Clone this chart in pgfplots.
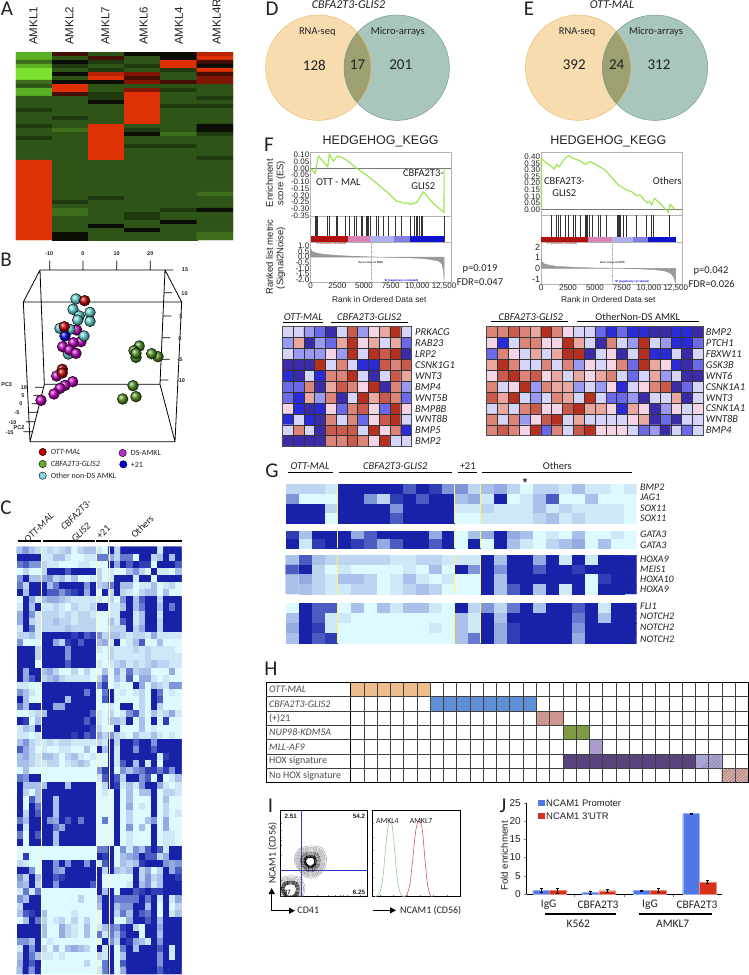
\documentclass[border=0pt]{standalone}
\usepackage{pgfplots}
\usepackage{pgfplotstable}
\pgfplotsset{compat=1.18}
\usepackage{fontspec}
\setmainfont{Carlito}
\newfontfamily\hv{Liberation Sans}
\usetikzlibrary{patterns,arrows.meta,plotmarks}
\newcommand\fs[1]{\fontsize{#1}{#1}\selectfont}
\definecolor{txt}{HTML}{222222}
\definecolor{gr}{HTML}{777777}
% ---- reads a table of numbers, row after row, into coordinates for a matrix plot
\newcount\hmi \newcount\hmj \newcount\hmn
\def\hmread#1#2#3{\hmn=#2 \hmi=0 \hmj=0 \gdef\hmacc{}\hmstep#3 x \expandafter\global\expandafter\let\csname hmd#1\endcsname\hmacc}
\def\hmstep#1 {\if x#1\else\xdef\hmacc{\hmacc(\the\hmi,\the\hmj) [#1] }\advance\hmi by 1 \ifnum\hmi=\hmn \hmi=0 \advance\hmj by 1 \fi\expandafter\hmstep\fi}
\newcommand\hmplot[2]{\edef\hmtmp{\noexpand\addplot[matrix plot*,mesh/cols=#2,point meta=explicit] coordinates {\csname hmd#1\endcsname};}\hmtmp}
\pgfplotsset{
 colormap={gnred}{rgb255=(125,225,50) rgb255=(90,175,35) rgb255=(62,110,28) rgb255=(46,84,24) rgb255=(32,58,16) rgb255=(10,14,4) rgb255=(70,15,5) rgb255=(130,22,5) rgb255=(185,35,5) rgb255=(224,48,5)},
 colormap={blu}{rgb255=(220,250,255) rgb255=(207,232,248) rgb255=(189,213,240) rgb255=(169,192,234) rgb255=(148,171,226) rgb255=(127,149,218) rgb255=(101,121,206) rgb255=(74,92,194) rgb255=(47,62,181) rgb255=(23,34,168)},
 colormap={brd}{rgb255=(58,44,168) rgb255=(42,42,216) rgb255=(106,106,232) rgb255=(154,154,240) rgb255=(213,213,250) rgb255=(245,213,229) rgb255=(232,168,160) rgb255=(220,132,120) rgb255=(200,90,78) rgb255=(181,48,31)},
 colormap={hset}{rgb255=(255,255,255) rgb255=(238,189,138) rgb255=(95,143,214) rgb255=(207,149,144) rgb255=(127,154,69) rgb255=(170,156,204) rgb255=(89,68,127) rgb255=(170,165,215) rgb255=(225,170,165) rgb255=(255,255,255)},
 hm/.style={scale only axis,hide axis,point meta min=0,point meta max=9,anchor=north west},
 hmg/.style={scale only axis,point meta min=0,point meta max=9,anchor=north west,axis on top,colormap name=brd,y dir=reverse,
   grid=major,grid style={black!80,line width=0.6pt},major tick length=0pt,xticklabels={},yticklabels={},axis line style={black!70,line width=0.8pt}},
 es/.style={scale only axis,anchor=north west,axis line style={gray!60,line width=0.4pt},xtick=\empty,major tick length=0pt,scaled x ticks=false,
   tick label style={font=\hv\fs{8},text=txt,inner sep=0.5pt},clip=true},
}
% ---- panel A
\hmread{A}{6}{1 6 3 5 5 8
1 3 6 3 5 9
2 5 4 3 9 6
1 4 3 4 9 5
0 3 4 3 4 9
0 5 8 7 3 6
0 3 9 6 3 7
2 5 5 7 6 7
3 9 3 3 3 3
1 9 3 7 4 3
1 6 4 9 3 3
3 3 4 9 3 4
3 3 5 9 3 3
3 3 3 9 4 4
4 3 3 9 3 3
3 3 3 9 3 3
3 4 3 9 3 3
3 3 3 9 3 3
4 3 9 3 3 5
3 2 9 4 3 5
3 3 9 5 2 4
4 3 9 3 3 3
3 3 9 3 3 3
3 3 9 4 4 3
3 3 9 3 3 3
3 3 9 3 3 3
3 3 9 3 3 4
9 3 3 3 3 3
9 3 3 3 3 3
9 3 3 3 3 3
9 3 3 3 3 3
9 3 3 3 3 3
9 3 3 3 3 3
9 3 3 3 3 3
9 3 3 3 3 3
9 3 3 3 3 2
9 3 4 3 3 3
9 4 3 3 3 3
9 3 3 3 3 3
9 2 3 3 4 5
9 2 3 4 3 3
9 3 3 4 3 3
9 3 3 3 5 3
9 3 5 3 3 3
9 3 3 5 3 3
9 5 3 3 3 2
9 5 3 3 3 2}
% ---- panel C
\hmread{C}{27}{3 5 3 2 1 2 1 2 3 0 2 3 3 1 0 9 2 9 9 9 9 9 9 1 9 9 9
9 9 9 9 1 1 3 3 1 0 0 1 1 6 6 4 2 6 6 0 9 9 2 3 9 3 9
6 7 5 5 2 1 1 0 0 0 1 1 0 0 0 9 4 9 7 9 8 8 0 9 9 9 7
0 2 0 0 2 9 9 9 7 9 9 9 9 2 0 1 0 0 3 5 2 0 9 1 1 0 3
5 9 3 3 4 5 2 3 1 3 0 0 1 2 0 1 9 9 9 1 9 9 0 9 9 9 9
6 2 9 9 9 3 6 9 9 9 9 5 9 2 3 6 9 3 3 0 1 1 3 0 1 2 0
9 3 9 9 9 7 7 5 7 8 9 4 9 0 9 2 9 2 1 0 2 3 3 0 3 0 0
0 9 4 1 3 4 4 3 2 1 1 1 1 1 0 2 0 5 9 3 7 9 9 2 9 9 9
1 9 3 9 1 1 2 1 0 2 1 1 2 9 9 1 1 3 9 3 6 9 9 3 9 6 9
4 9 5 1 2 2 2 1 2 1 2 2 1 0 0 1 1 9 9 1 3 9 9 1 9 9 9
4 9 2 1 2 2 3 2 2 1 2 2 2 0 0 3 1 7 9 1 3 9 9 2 9 9 9
1 9 6 1 2 2 2 2 3 2 2 2 2 0 0 2 2 2 9 2 4 9 9 2 9 9 9
2 2 3 1 9 9 9 9 9 8 9 7 8 5 2 3 3 2 1 2 2 1 4 1 1 1 1
5 0 0 0 9 9 4 2 8 9 7 9 9 3 4 1 9 0 1 3 7 0 0 3 0 0 0
9 9 9 2 9 9 9 9 5 9 9 9 9 1 0 2 1 1 1 2 1 2 1 1 1 1 0
9 9 9 2 9 9 9 9 5 9 9 9 9 0 0 2 1 1 1 1 1 2 1 1 1 1 1
9 9 9 0 9 9 9 9 7 9 9 9 9 1 0 1 2 3 1 2 1 2 3 2 2 1 1
9 4 9 9 3 4 2 0 0 2 0 2 0 0 3 0 4 1 6 2 3 3 0 0 0 4 0
9 4 7 9 2 3 4 2 1 1 1 1 0 2 6 0 3 1 7 0 4 4 1 0 1 0 0
1 1 0 0 9 9 9 9 9 9 9 9 9 5 8 0 1 0 0 9 4 0 3 2 1 5 5
5 3 1 0 9 9 9 9 9 9 9 6 9 0 6 9 0 1 0 1 2 0 9 6 0 1 0
9 3 0 0 9 9 9 9 3 9 9 9 9 0 7 9 0 0 0 0 2 0 9 7 0 0 0
6 3 9 9 9 9 4 4 9 9 9 9 9 0 0 1 0 9 9 0 2 0 9 2 0 0 0
0 0 1 2 3 9 9 9 9 9 9 9 7 1 0 2 0 1 5 7 2 0 3 1 2 4 1
9 8 0 3 9 9 9 9 9 9 9 7 9 1 0 3 3 2 9 0 3 0 9 0 8 0 0
1 3 2 9 9 9 9 9 9 9 9 9 8 2 0 0 9 0 0 0 3 0 1 0 0 0 0
1 1 0 1 9 9 9 9 9 8 9 7 8 4 2 5 2 1 0 3 1 1 3 1 0 1 0
3 5 2 1 1 2 1 2 2 1 1 1 1 2 1 9 2 9 9 7 9 9 5 9 9 9 9
7 4 2 0 1 0 0 1 1 0 0 3 0 9 3 9 1 9 9 5 9 9 7 9 9 9 9
3 4 2 1 3 3 2 0 2 3 1 0 1 0 0 9 1 9 9 9 9 9 9 1 8 9 9
3 3 2 1 1 2 2 0 1 2 3 2 0 0 0 9 1 7 9 3 9 1 9 0 9 9 9
0 3 0 0 0 0 0 0 0 0 0 0 0 5 8 9 0 5 3 5 6 8 8 6 8 5 9
6 5 9 9 0 0 0 0 0 0 0 0 0 1 7 9 7 2 9 9 5 7 0 9 0 1 3
9 3 3 3 3 9 9 9 3 9 9 9 9 0 2 9 8 1 3 1 5 9 9 4 1 0 1
9 2 0 3 9 9 9 9 9 9 9 9 9 0 1 0 9 0 3 0 3 3 9 0 2 2 1
9 0 7 3 9 9 3 9 9 9 9 9 9 0 0 0 9 0 3 0 0 0 9 0 3 0 0
9 0 9 6 9 9 3 9 9 9 9 9 9 0 0 0 9 0 4 0 1 0 9 0 2 0 0
9 2 9 7 9 9 3 9 9 9 9 9 9 0 0 0 9 0 2 0 0 0 9 0 2 0 1
6 3 9 9 9 5 4 9 7 9 6 9 9 0 6 0 9 0 2 0 0 3 5 0 4 0 0
9 1 9 9 9 9 6 4 9 9 9 9 9 0 0 0 9 0 5 0 3 0 9 0 4 0 0
6 0 9 7 9 9 3 9 9 9 9 9 9 0 0 0 9 0 1 0 0 0 9 0 1 1 0
9 0 9 9 9 9 3 9 9 9 9 9 9 0 0 0 9 0 1 0 0 0 9 0 1 1 0
0 0 0 0 0 0 0 0 0 0 0 0 0 6 6 9 0 5 1 5 3 7 9 7 1 9 9
0 8 0 0 0 0 0 0 0 0 0 0 0 9 8 9 0 3 4 5 9 7 7 2 4 9 9
2 1 0 0 9 9 5 9 5 9 9 5 9 1 7 9 0 3 2 3 8 9 9 9 5 4 5
9 9 5 0 9 9 5 4 9 9 9 9 9 9 2 9 3 2 3 9 2 4 0 2 9 4 7
5 2 9 3 9 9 7 8 9 9 9 9 9 9 0 0 0 0 0 9 2 5 2 3 9 9 8
4 3 9 2 9 9 5 9 9 9 9 9 7 9 0 0 0 0 1 9 3 5 1 3 9 9 9
1 6 1 6 0 0 0 0 0 0 0 0 0 9 3 9 0 9 9 7 8 9 8 8 9 9 9
5 3 9 9 0 0 0 0 0 0 2 0 0 4 9 9 6 6 6 6 9 6 9 1 9 1 4
2 9 9 9 0 0 0 0 0 0 0 0 0 3 9 9 3 5 5 9 9 3 9 0 9 0 2
3 7 8 9 3 0 0 0 0 1 0 0 0 0 9 9 2 6 3 9 7 6 9 0 9 1 3
0 3 9 6 2 0 1 2 0 2 0 2 0 0 9 9 0 0 4 9 9 7 9 3 9 9 9
9 9 9 9 3 0 0 4 2 1 0 3 0 1 3 6 5 8 9 2 0 9 9 4 9 9 9
9 9 9 9 3 0 0 4 2 1 0 3 0 6 1 6 3 7 9 9 0 9 9 3 9 9 9
5 5 3 9 0 1 0 0 0 0 0 0 0 0 9 5 2 9 8 4 3 1 9 5 9 9 9
1 9 5 9 2 0 3 0 3 4 3 2 0 9 1 9 0 6 9 3 9 9 9 7 9 1 9
3 9 6 3 1 1 0 1 0 0 0 0 0 2 1 9 0 3 9 9 9 9 9 5 9 1 9
4 9 7 9 0 0 0 0 0 0 0 2 0 0 6 9 0 7 9 9 9 9 9 5 9 9 9
3 9 5 9 0 0 0 0 0 0 0 0 0 1 6 9 0 4 9 9 9 9 9 7 9 9 9}
% ---- panel F heatmaps
\hmread{FL}{12}{4 4 3 2 0 4 8 3 5 6 9 4
3 6 0 3 2 6 9 5 6 4 6 2
4 3 3 3 5 3 9 4 9 8 9 0
0 0 0 9 4 7 4 1 1 8 7 8
1 0 4 1 7 7 9 4 0 4 8 6
2 2 7 0 6 8 7 5 9 0 7 3
2 1 6 3 7 0 4 9 6 8 7 2
5 1 0 1 5 2 7 8 5 2 9 5
1 4 1 0 7 4 7 2 5 8 9 4
4 7 4 0 8 8 8 4 9 5 7 1
0 0 0 0 7 7 8 7 5 9 4 4}
\hmread{FR}{20}{7 7 8 7 6 9 7 5 4 4 2 1 2 1 1 0 0 1 1 0
5 1 4 7 7 5 5 9 6 4 0 7 4 3 9 4 3 1 1 2
2 7 5 4 6 4 6 9 9 0 4 5 0 4 9 1 1 4 0 4
6 9 7 4 4 7 4 7 3 5 4 5 7 2 9 6 5 1 0 2
5 8 9 7 8 5 6 4 6 5 6 7 4 2 4 6 3 4 0 0
7 4 5 9 3 7 6 6 3 4 3 5 1 4 5 7 8 0 2 4
8 6 9 4 3 4 7 6 4 9 4 2 2 3 0 4 4 6 0 4
4 6 4 7 8 5 5 8 9 6 6 5 1 6 5 0 3 5 4 5
7 4 7 3 5 8 9 4 6 4 4 4 4 5 6 0 2 0 4 4
7 8 7 5 9 2 7 4 8 9 5 5 5 4 2 3 0 4 2 4}
% ---- panel G
\hmread{Ga}{27}{2 2 2 1 9 9 9 9 9 7 9 8 5 5 2 3 4 2 0 2 2 1 3 1 1 0 1
5 0 0 0 9 9 5 2 8 9 7 9 9 3 4 1 9 0 1 3 7 0 0 3 0 0 0
9 9 9 2 9 9 9 9 5 9 9 9 9 1 1 2 1 1 1 3 1 2 1 1 1 1 0
9 9 9 0 9 9 9 9 7 9 9 9 9 0 0 1 1 1 1 2 3 1 2 1 1 1 0}
\hmread{Gb}{27}{8 3 9 9 9 4 7 9 9 9 9 4 9 0 3 4 9 4 3 0 1 0 3 0 0 1 0
9 1 8 9 9 8 7 4 7 9 9 7 9 0 9 0 9 3 1 0 2 3 4 0 3 0 0}
\hmread{Gc}{27}{3 7 3 2 2 2 2 2 1 1 2 2 1 1 1 9 3 9 9 4 9 1 9 1 9 9 9
7 9 2 0 1 0 0 0 0 1 0 3 0 9 5 9 5 9 9 7 9 9 8 9 9 9 9
3 4 2 1 3 3 2 0 1 3 1 0 1 0 0 9 3 9 9 9 9 9 9 0 8 9 9
3 3 2 1 1 2 2 0 1 2 3 2 0 0 0 9 3 7 9 3 9 1 9 0 9 9 9}
\hmread{Gd}{27}{0 9 7 7 0 3 0 3 1 3 3 1 0 9 2 5 2 6 9 3 9 9 7 9 1 9 9
3 9 7 1 1 0 0 0 0 0 0 0 0 3 1 9 3 9 9 9 9 9 6 9 3 9 9
4 9 8 1 0 0 0 0 0 0 0 1 0 3 1 9 4 8 9 9 9 9 5 9 9 9 9
3 9 7 8 0 0 0 0 0 0 0 0 0 3 6 9 4 8 9 9 9 9 4 9 9 9 9}
% ---- panel H
\hmread{H}{30}{1 1 1 1 1 1 0 0 0 0 0 0 0 0 0 0 0 0 0 0 0 0 0 0 0 0 0 0 0 0
0 0 0 0 0 0 2 2 2 2 2 2 2 2 0 0 0 0 0 0 0 0 0 0 0 0 0 0 0 0
0 0 0 0 0 0 0 0 0 0 0 0 0 0 3 3 0 0 0 0 0 0 0 0 0 0 0 0 0 0
0 0 0 0 0 0 0 0 0 0 0 0 0 0 0 0 4 4 0 0 0 0 0 0 0 0 0 0 0 0
0 0 0 0 0 0 0 0 0 0 0 0 0 0 0 0 0 0 5 0 0 0 0 0 0 0 0 0 0 0
0 0 0 0 0 0 0 0 0 0 0 0 0 0 0 0 6 6 6 6 6 6 6 6 6 6 7 7 0 0
0 0 0 0 0 0 0 0 0 0 0 0 0 0 0 0 0 0 0 0 0 0 0 0 0 0 0 0 8 8}
\pgfplotstableread{
x y
1 -0.2
0.75 -0.8
0.1 -0.95
-0.6 -0.8
-0.95 -0.2
-0.7 0.5
-0.2 0.95
0.3 0.95
0.85 0.5
1 -0.2
}\ringA
\newcommand\tx[4][]{\node[inner sep=0pt,text=txt,#1] at (#2,#3) {#4};}
\begin{document}
\begin{tikzpicture}[x=1pt,y=-1pt]
\path[use as bounding box,fill=white] (0,0) rectangle (749,975);
% panel letters
\tx{7}{9}{\fs{21}A}\tx{6}{260}{\fs{21}B}\tx{6}{508}{\fs{21}C}\tx{272}{9}{\fs{21}D}\tx{529}{9}{\fs{21}E}
\tx{269}{145}{\fs{21}F}\tx{272}{471}{\fs{21}G}\tx{271}{669}{\fs{21}H}\tx{270.5}{806}{\fs{21}I}\tx{503}{806}{\fs{21}J}
% A
\begin{axis}[hm,at={(16pt,-52pt)},width=217pt,height=188pt,colormap name=gnred,y dir=reverse,xmin=-0.5,xmax=5.5,ymin=-0.5,ymax=46.5]
\hmplot{A}{6}
\end{axis}
\foreach \x/\n in {33.3/AMKL1,69.3/AMKL2,105.3/AMKL7,143.7/AMKL6,179/AMKL4,216.7/AMKL4R}
 {\node[inner sep=0pt,rotate=90,anchor=west,text=txt] at (\x,45) {\hv\fs{11.5}\n};}
% B
\begin{axis}[scale only axis,hide axis,anchor=north west,at={(0pt,-240pt)},width=190pt,height=205pt,xmin=0,xmax=570,ymin=0,ymax=615,y dir=reverse,clip=false]
\addplot[black,line width=0.8pt,unbounded coords=jump] coordinates {(120,90)(495,90)(480,433)(133,433)(120,90)(nan,nan)(70,186)(545,186)(525,605)(90,605)(70,186)(nan,nan)(120,90)(70,186)(nan,nan)(495,90)(545,186)(nan,nan)(133,433)(90,605)(nan,nan)(480,433)(525,605)
(nan,nan)(149,62)(149,90)(nan,nan)(249,62)(249,90)(nan,nan)(350,62)(350,90)(nan,nan)(451,62)(451,90)
(nan,nan)(495,90)(520,90)(nan,nan)(493,158)(517,158)(nan,nan)(490,228)(514,228)(nan,nan)(487,293)(511,293)(nan,nan)(485,358)(509,358)(nan,nan)(481,420)(505,420)
(nan,nan)(105,442)(133,442)(nan,nan)(100,466)(127,466)(nan,nan)(95,491)(122,491)(nan,nan)(85,517)(115,517)(nan,nan)(78,545)(105,545)(nan,nan)(70,575)(98,575)};
\addplot[only marks,mark=ball,mark size=5.4pt,ball color={rgb:red,110;green,200;blue,40}] coordinates {(368,477)(408,470)(399,437)(474,350)(455,341)(418,318)(402,332)(408,352)(408,340)};
\addplot[only marks,mark=ball,mark size=5.4pt,ball color=violet!50!magenta] coordinates {(230,270)(243,305)};
\addplot[only marks,mark=ball,mark size=5.4pt,ball color=cyan!45!teal!60!white] coordinates {(228,177)(219,208)(238,228)(270,217)(270,244)(233,240)(180,265)(210,268)(252,288)(205,342)};
\addplot[only marks,mark=ball,mark size=5.4pt,ball color=blue!85!black] coordinates {(195,288)};
\addplot[only marks,mark=ball,mark size=5.4pt,ball color=violet!50!magenta] coordinates {(188,320)(220,308)(208,330)(228,340)(218,425)(170,408)(195,436)(180,445)(162,462)(123,481)};
\addplot[only marks,mark=ball,mark size=5.4pt,ball color=red!75!black] coordinates {(254,182)(193,260)(187,388)(187,399)};
\addplot[only marks,mark=*,mark size=3.7pt,draw=none,fill=red!75!black] coordinates {(128,636)};
\addplot[only marks,mark=*,mark size=3.7pt,draw=none,fill={rgb,255:red,100;green,175;blue,35}] coordinates {(128,672)};
\addplot[only marks,mark=*,mark size=3.7pt,draw=none,fill={rgb,255:red,125;green,214;blue,216}] coordinates {(128,707)};
\addplot[only marks,mark=*,mark size=3.7pt,draw=none,fill={rgb,255:red,176;green,48;blue,200}] coordinates {(368,639)};
\addplot[only marks,mark=*,mark size=3.7pt,draw=none,fill=blue!85!black] coordinates {(370,673)};
\end{axis}
\foreach \x/\y/\n in {49.3/253.3/-10,83/253.3/0,116.7/253.3/10,150.3/253.3/20,185/270/15,184.5/293.5/10,181/316.7/5,180/338.3/0,180/359.3/-5,181/380.3/-10,24/387.7/10,23/396/5,21/404/0,17/413/-5,12.5/422.5/-10,9.5/432.5/-15,6.7/385/PC3,19/427.7/PC2}
 {\node[inner sep=0pt,text=txt] at (\x,\y) {\hv\bfseries\fs{5.5}\n};}
\tx[anchor=west]{50.7}{452}{\fs{8}\itshape OTT-MAL}\tx[anchor=west]{50.7}{464}{\fs{8}\itshape CBFA2T3-GLIS2}\tx[anchor=west]{50.7}{476}{\fs{8}Other non-DS AMKL}
\tx[anchor=west]{130.7}{453}{\fs{8}DS-AMKL}\tx[anchor=west]{130.7}{464.7}{\fs{8}+21}
% C
\foreach \a/\b in {17.7/40.7,42.7/95,96.3/108,109.3/181.7} {\draw[line width=1.5pt,black] (\a,541)--(\b,541);}
\tx[rotate=45]{39}{527.7}{\fs{10}\itshape OTT-MAL}\tx[rotate=45]{76}{515}{\fs{10}\itshape CBFA2T3-}\tx[rotate=45]{81}{532.3}{\fs{10}\itshape GLIS2}
\tx[rotate=45]{103.3}{532.3}{\fs{10}+21}\tx[rotate=45]{142.3}{526.7}{\fs{10}Others}
\begin{axis}[hm,at={(16.7pt,-546.7pt)},width=165pt,height=427.3pt,colormap name=blu,y dir=reverse,xmin=-0.5,xmax=26.5,ymin=-0.5,ymax=59.5]
\hmplot{C}{27}
\end{axis}
\foreach \x in {41,96.3,108.7} {\draw[line width=0.3pt,yellow!25!white] (\x,546.7)--(\x,974);}
% D, E
\foreach \c/\d/\t/\n/\a/\b/\m in {318.3/396.7/CBFA2T3-GLIS2/348.5/128/17/201,578.2/655/OTT-MAL/612/392/24/312}{
 \fill[fill={rgb,255:red,246;green,220;blue,174}] (\c,67.7) circle (52.7);
 \fill[fill={rgb,255:red,169;green,198;blue,188}] (\d,67.7) circle (52.7);
 \begin{scope}\clip (\c,67.7) circle (52.7); \fill[fill={rgb,255:red,158;green,160;blue,112}] (\d,67.7) circle (52.7); \end{scope}
 \draw[line width=0.5pt,color={rgb,255:red,232;green,190;blue,115}] (\c,67.7) circle (52.7);
 \draw[line width=0.5pt,color={rgb,255:red,115;green,155;blue,145}] (\d,67.7) circle (52.7);
 \pgfmathsetmacro\mm{(\c+\d)/2}
 \tx{\n}{5}{\fs{12}\itshape\t}
 \tx{\c-1}{32}{\fs{10.5}RNA-seq}\tx{\d+1}{32}{\fs{10.5}Micro-arrays}
 \tx{\c-4}{65}{\fs{15}\a}\tx{\mm}{65}{\fs{15}\b}\tx{\d+4}{65}{\fs{15}\m}
}
% F left
\tx{380.7}{141.7}{\hv\fs{12.5}HEDGEHOG\_KEGG}
\begin{axis}[es,at={(310pt,-151.7pt)},width=141pt,height=64pt,xmin=-62,xmax=13156,ymin=-0.351,ymax=0.124,ytick={0.1,0.05,0,-0.05,-0.1,-0.15,-0.2,-0.25,-0.3,-0.35},yticklabels={0.10,0.05,0.00,-0.05,-0.10,-0.15,-0.20,-0.25,-0.30,-0.35}]
\addplot[gr,line width=0.5pt] coordinates {(-62,0)(13156,0)};
\addplot[color={rgb,255:red,150;green,230;blue,70},line width=1.1pt] coordinates {(0,0)(406,-0.037)(719,0.092)(1188,0.05)(1594,0.012)(1750,0.104)(2125,0.054)(2500,0.092)(2750,0.087)(3375,0.062)(4313,0)(5250,-0.05)(6188,-0.111)(7125,-0.173)(8063,-0.243)(8500,-0.25)(8844,-0.26)(9100,-0.255)(9313,-0.267)(9938,-0.252)(10563,-0.173)(11500,-0.26)(12500,-0.327)(12510,0)};
\end{axis}
\begin{axis}[es,at={(310pt,-215.7pt)},width=141pt,height=26pt,xmin=-62,xmax=13156,ymin=0,ymax=1,ytick=\empty]
\addplot[ycomb,black!80,line width=0.5pt,mark=none] coordinates {(406,1)(563,1)(656,1)(1594,1)(1719,1)(2375,1)(2500,1)(3219,1)(3625,1)(4063,1)(4313,1)(4781,1)(4875,1)(5188,1)(5313,1)(5438,1)(5625,1)(6188,1)(6344,1)(6813,1)(7281,1)(7906,1)(8531,1)(9313,1)(9688,1)(9875,1)(10000,1)(10188,1)(10344,1)(10500,1)(12531,1)};
\addplot[fill={rgb,255:red,176;green,16;blue,16},draw=none] coordinates {(0,0)(3500,0)(3500,.22)(0,.22)} -- cycle;
\addplot[fill={rgb,255:red,218;green,130;blue,180},draw=none] coordinates {(3500,0)(5600,0)(5600,.22)(3500,.22)} -- cycle;
\addplot[fill={rgb,255:red,176;green,176;blue,240},draw=none] coordinates {(5600,0)(7800,0)(7800,.22)(5600,.22)} -- cycle;
\addplot[fill={rgb,255:red,128;green,128;blue,224},draw=none] coordinates {(7800,0)(9300,0)(9300,.22)(7800,.22)} -- cycle;
\addplot[fill={rgb,255:red,16;green,16;blue,208},draw=none] coordinates {(9300,0)(12520,0)(12520,.22)(9300,.22)} -- cycle;
\end{axis}
\begin{axis}[es,at={(310pt,-241.7pt)},width=141pt,height=40.7pt,xmin=-62,xmax=13156,ymin=-2.235,ymax=1.353,ytick={1,0.5,0,-0.5,-1,-1.5,-2},yticklabels={1.0,0.5,0.0,-0.5,-1.0,-1.5,-2.0},xtick={0,2500,5000,7500,10000,12500},xticklabels={0,2500,5000,7500,{10,000},{12,500}}]
\addplot[fill=gray!80,draw=gray!80] coordinates {(0,0.75)(100,0.55)(300,0.42)(700,0.32)(1500,0.22)(2500,0.14)(4000,0.07)(5600,0.02)(6300,0)(8000,-0.04)(10000,-0.1)(11000,-0.18)(12000,-0.35)(12300,-0.6)(12450,-1.2)(12510,-2.1)} \closedcycle;
\addplot[densely dotted,gray!60,line width=0.3pt] coordinates {(5625,1.353)(5625,-2.235)};
\end{axis}
\tx{330.7}{244}{\color{red!70!black}\hv\fs{2.8}`A' (positively correlated)}
\tx{370.7}{262.7}{\hv\bfseries\fs{2.8}Zero cross at 5805}
\tx{401}{281}{\color{blue}\hv\bfseries\fs{2.8}`B' (negatively correlated)}
\tx{379.3}{300}{\hv\fs{8.3}Rank in Ordered Data set}
\tx[rotate=90]{269.5}{183.3}{\hv\fs{9.5}Enrichment}\tx[rotate=90]{281}{183.3}{\hv\fs{9.5}score (ES)}
\tx[rotate=90]{269.5}{257}{\hv\fs{9.5}Ranked list metric}\tx[rotate=90]{281}{258}{\hv\fs{9.5}(Signal2Noise)}
\tx{338.3}{181.7}{\fs{10.5}OTT - MAL}\tx{423.3}{173.3}{\fs{10.5}CBFA2T3-}\tx{423.3}{186.3}{\fs{10.5}GLIS2}
\tx{480}{269}{\fs{10.5}p=0.019}\tx{480}{281.7}{\fs{10.5}FDR=0.047}
% F right
\tx{608.3}{141.7}{\hv\fs{12.5}HEDGEHOG\_KEGG}
\begin{axis}[es,at={(540.7pt,-151.7pt)},width=141.7pt,height=63.3pt,xmin=-31,xmax=13119,ymin=-0.04,ymax=0.437,ytick={0.4,0.35,0.3,0.25,0.2,0.15,0.1,0.05,0},yticklabels={0.40,0.35,0.30,0.25,0.20,0.15,0.10,0.05,0.00}]
\addplot[gr,line width=0.5pt] coordinates {(-31,0)(13119,0)};
\addplot[color={rgb,255:red,150;green,230;blue,70},line width=1.1pt] coordinates {(0,0)(0,0.387)(526,0.349)(990,0.324)(1237,0.306)(1454,0.342)(1702,0.324)(2073,0.374)(2537,0.407)(3001,0.387)(3620,0.369)(4084,0.342)(4548,0.362)(5012,0.344)(5940,0.299)(7178,0.186)(7951,0.148)(8415,0.136)(8879,0.106)(9188,0.111)(9807,0.053)(10116,0.060)(10271,0.035)(10519,0.085)(11045,0.048)(11818,-0.02)(11972,0.040)(12498,0)};
\end{axis}
\begin{axis}[es,at={(540.7pt,-215pt)},width=141.7pt,height=27.3pt,xmin=-31,xmax=13119,ymin=0,ymax=1,ytick=\empty]
\addplot[ycomb,black!80,line width=0.5pt,mark=none] coordinates {(990,1)(1392,1)(1609,1)(1825,1)(2228,1)(2537,1)(3001,1)(3218,1)(3620,1)(4084,1)(4208,1)(4332,1)(4486,1)(4765,1)(5321,1)(5476,1)(6095,1)(7085,1)(7178,1)(7271,1)(7395,1)(7642,1)(7951,1)(8818,1)(9807,1)(10271,1)(10426,1)(11912,1)};
\addplot[fill={rgb,255:red,176;green,16;blue,16},draw=none] coordinates {(0,0)(4400,0)(4400,.21)(0,.21)} -- cycle;
\addplot[fill={rgb,255:red,218;green,130;blue,180},draw=none] coordinates {(4400,0)(6620,0)(6620,.21)(4400,.21)} -- cycle;
\addplot[fill={rgb,255:red,176;green,176;blue,240},draw=none] coordinates {(6620,0)(8570,0)(8570,.21)(6620,.21)} -- cycle;
\addplot[fill={rgb,255:red,128;green,128;blue,224},draw=none] coordinates {(8570,0)(9960,0)(9960,.21)(8570,.21)} -- cycle;
\addplot[fill={rgb,255:red,16;green,16;blue,208},draw=none] coordinates {(9960,0)(12500,0)(12500,.21)(9960,.21)} -- cycle;
\end{axis}
\begin{axis}[es,at={(540.7pt,-242.3pt)},width=141.7pt,height=42pt,xmin=-31,xmax=13119,ymin=-1.5,ymax=2.44,ytick={2,1,0,-1},yticklabels={2,1,0,-1},y tick label style={font=\hv\fs{9}},xtick={0,2500,5000,7500,10000,12500},xticklabels={0,2500,5000,7500,{10,000},{12,500}}]
\addplot[fill=gray!80,draw=gray!80] coordinates {(0,0.95)(100,0.6)(300,.42)(800,.28)(1500,.18)(3000,.1)(5000,.03)(6900,0)(9000,-.05)(10500,-.12)(11500,-.25)(12000,-.45)(12300,-.8)(12490,-1.35)} \closedcycle;
\addplot[densely dotted,gray!60,line width=0.3pt] coordinates {(6620,2.44)(6620,-1.5)};
\end{axis}
\tx{561.7}{244}{\color{red!70!black}\hv\fs{2.8}`A' (positively correlated)}
\tx{612.3}{262.7}{\hv\bfseries\fs{2.8}Zero cross at 6755}
\tx{631.7}{281.3}{\color{blue}\hv\bfseries\fs{2.8}`B' (negatively correlated)}
\tx{608.3}{300}{\hv\fs{8.3}Rank in Ordered Data set}
\tx{564.3}{181}{\fs{10.5}CBFA2T3-}\tx{564.3}{193.3}{\fs{10.5}GLIS2}\tx{667.3}{180.7}{\fs{10.5}Others}
\tx{711}{271}{\fs{10.5}p=0.042}\tx{711.7}{284.3}{\fs{10.5}FDR=0.026}
% J
\begin{axis}[scale only axis,anchor=north west,at={(526.7pt,-802.7pt)},width=195pt,height=91.3pt,xmin=800,xmax=1385,ymin=0,ymax=25,axis x line*=bottom,axis y line*=left,axis line style={-,line width=0.6pt},ytick={0,5,10,15,20,25},xtick={942,1092,1240},xticklabels={},tick align=outside,major tick length=2.5pt,y tick label style={font=\hv\fs{10},text=txt,/pgf/number format/assume math mode=true},clip=false]
\addplot[ybar,bar width=16.6pt,bar shift=0pt,fill={rgb,255:red,79;green,120;blue,230},draw={rgb,255:red,150;green,180;blue,240},error bars/.cd,y dir=both,y explicit,error bar style={black,line width=0.6pt},error mark options={black,mark size=1.5pt,rotate=90}] coordinates {(843,1) +- (0,0.5) (990,0.4) +- (0,0.4) (1145,1) +- (0,0.15) (1293,22) +- (0,0.25)};
\addplot[ybar,bar width=16.6pt,bar shift=0pt,fill={rgb,255:red,216;green,48;blue,26},draw={rgb,255:red,235;green,140;blue,120},error bars/.cd,y dir=both,y explicit,error bar style={black,line width=0.6pt},error mark options={black,mark size=1.5pt,rotate=90}] coordinates {(893,1) +- (0,0.7) (1042,0.9) +- (0,0.5) (1195,1) +- (0,0.5) (1343,3.3) +- (0,0.4)};
\end{axis}
\tx[rotate=90]{504.3}{856}{\hv\fs{9.7}Fold enrichment}
\fill[color={rgb,255:red,79;green,120;blue,230}] (538.3,800) rectangle (545,806);
\fill[color={rgb,255:red,216;green,48;blue,26}] (538.3,813.3) rectangle (545,819.3);
\tx[anchor=west]{546}{803.3}{\hv\fs{9.5}NCAM1 Promoter}\tx[anchor=west]{546}{816}{\hv\fs{9.5}NCAM1 3'UTR}
\tx{548.7}{904.7}{\fs{11.5}IgG}\tx{598}{904.7}{\fs{11.5}CBFA2T3}\tx{650}{904.7}{\fs{11.5}IgG}\tx{697}{904.7}{\fs{11.5}CBFA2T3}
\draw[line width=1.5pt] (545,914)--(616,914) (639.3,914)--(711.7,914);
\tx{578.3}{923.3}{\fs{11.5}K562}\tx{672.7}{923.3}{\fs{11.5}AMKL7}
% I histogram
\begin{axis}[scale only axis,anchor=north west,at={(372.7pt,-810pt)},width=87.3pt,height=86.7pt,xmin=338,xmax=600,ymin=90,ymax=350,y dir=reverse,xtick={360,400,440,480,520,560},ytick={130,170,210,250,290,330},xticklabels={},yticklabels={},major tick length=1.5pt,tick pos=left,tick align=inside,axis line style={black,line width=0.8pt}]
\addplot[smooth,color={rgb,255:red,140;green,205;blue,140},line width=0.6pt] coordinates {(345,350)(355,345)(362,330)(370,280)(378,190)(385,135)(390,125)(396,135)(402,190)(410,280)(418,330)(425,347)(433,350)};
\addplot[smooth,color={rgb,255:red,200;green,90;blue,90},line width=0.6pt] coordinates {(430,350)(440,345)(450,310)(458,240)(466,160)(473,128)(480,125)(487,150)(495,240)(502,310)(510,345)(518,350)};
\end{axis}
\tx{387.3}{821}{\fs{7.8}AMKL4}\tx{421}{821}{\fs{7.8}AMKL7}
\draw[-{Triangle[length=6pt,width=6pt]},line width=1pt] (372.7,910.3)--(396,910.3);
\tx{430.7}{910.7}{\fs{10}NCAM1 (CD56)}
% I contour
\begin{axis}[scale only axis,anchor=north west,at={(280.7pt,-810pt)},width=86.6pt,height=86.7pt,xmin=62,xmax=322,ymin=90,ymax=350,y dir=reverse,xtick={75,90,100,108,115,123,170,205,225,240,250,260,300},ytick={130,150,170,180,195,225,270,300,320,335},xticklabels={},yticklabels={},major tick length=1.5pt,tick pos=left,tick align=inside,axis line style={black,line width=0.8pt}]
\addplot[blue!60!gray,line width=0.5pt] coordinates {(123,90)(123,350)};
\addplot[blue!60!gray,line width=0.5pt] coordinates {(62,270)(322,270)};
\pgfplotsinvokeforeach{50,46,43,40,37,34}{\addplot[smooth,black!55,line width=0.25pt] table[x expr=\thisrow{x}*#1+150,y expr=\thisrow{y}*#1+245]{\ringA};}
\pgfplotsinvokeforeach{31,28,25,22}{\addplot[smooth,black!85,line width=0.4pt] table[x expr=\thisrow{x}*#1+150,y expr=\thisrow{y}*#1+245]{\ringA};}
\pgfplotsinvokeforeach{19,16,14}{\addplot[smooth,black,line width=0.8pt] table[x expr=\thisrow{x}*#1+150,y expr=\thisrow{y}*#1+245]{\ringA};}
\pgfplotsinvokeforeach{45,41,37,34,31}{\addplot[smooth,black!55,line width=0.25pt] table[x expr=\thisrow{x}*#1+90,y expr=\thisrow{y}*#1+330]{\ringA};}
\pgfplotsinvokeforeach{28,25,22,19}{\addplot[smooth,black!90,line width=0.6pt] table[x expr=\thisrow{x}*#1+90,y expr=\thisrow{y}*#1+330]{\ringA};}
\end{axis}
\tx{290.7}{816}{\hv\bfseries\fs{6.3}2.51}\tx{359}{816}{\hv\bfseries\fs{6.3}54.2}\tx{287.3}{892.3}{\hv\bfseries\fs{6.3}37}\tx{359}{892.7}{\hv\bfseries\fs{6.3}6.25}
\draw[-{Triangle[length=6pt,width=6pt]},line width=1pt] (271.7,910.7)--(271.7,888);
\draw[-{Triangle[length=6pt,width=6pt]},line width=1pt] (271.2,910.7)--(295,910.7);
\tx{308.3}{910.7}{\fs{10}CD41}
\tx[rotate=90]{272.7}{853.3}{\fs{10}NCAM1 (CD56)}
% F heatmaps
\draw[line width=1.5pt] (283.3,322.7)--(323.3,322.7) (331,322.7)--(407.7,322.7) (491,321.7)--(568.3,321.7) (576.7,321.7)--(699.3,321.7);
\tx{303.3}{316.7}{\fs{10.5}\itshape OTT-MAL}\tx{369.3}{316.7}{\fs{10.5}\itshape CBFA2T3-GLIS2}
\tx{530.7}{316.7}{\fs{10.5}\itshape CBFA2T3-GLIS2}\tx{637.7}{316.7}{\fs{10.5}OtherNon-DS AMKL}
\begin{axis}[hmg,at={(282.3pt,-326.7pt)},width=129.4pt,height=120pt,xmin=-0.5,xmax=11.5,ymin=-0.5,ymax=10.5,xtick={-0.5,0.5,...,11.5},ytick={-0.5,0.5,...,10.5}]
\hmplot{FL}{12}
\end{axis}
\begin{axis}[hmg,at={(486.7pt,-326.7pt)},width=216.6pt,height=109pt,xmin=-0.5,xmax=19.5,ymin=-0.5,ymax=9.5,xtick={-0.5,0.5,...,19.5},ytick={-0.5,0.5,...,9.5}]
\hmplot{FR}{20}
\end{axis}
\foreach \y/\n in {332.2/PRKACG,343/RAB23,354/LRP2,364.8/CSNK1G1,375.8/WNT3,386.8/BMP4,397.7/WNT5B,408.5/BMP8B,419.4/WNT8B,430.3/BMP5,441.3/BMP2}
 {\tx[anchor=west]{415}{\y}{\fs{10.5}\itshape\n}}
\foreach \y/\n in {332.2/BMP2,343/PTCH1,354/FBXW11,364.8/GSK3B,375.8/WNT6,386.8/CSNK1A1,397.7/WNT3,408.5/CSNK1A1,419.4/WNT8B,430.3/BMP4}
 {\tx[anchor=west]{705.7}{\y}{\fs{10.5}\itshape\n}}
% G
\draw[line width=1.5pt] (287.7,472.3)--(332.7,472.3) (338.7,472.3)--(452.3,472.3) (458.3,472.3)--(477.3,472.3) (482.3,472.3)--(632,472.3);
\tx{310}{466}{\fs{10.5}\itshape OTT-MAL}\tx{395.3}{466}{\fs{10.5}\itshape CBFA2T3-GLIS2}\tx{467.7}{466}{\fs{10.5}+21}\tx{557.3}{466}{\fs{10.5}Others}
\tx{525}{483}{\fs{14}\bfseries *}
\begin{axis}[hm,at={(285.7pt,-484.3pt)},width=351pt,height=39pt,colormap name=blu,y dir=reverse,xmin=-0.5,xmax=26.5,ymin=-0.5,ymax=3.5]
\hmplot{Ga}{27}
\end{axis}
\begin{axis}[hm,at={(285.7pt,-531pt)},width=351pt,height=17pt,colormap name=blu,y dir=reverse,xmin=-0.5,xmax=26.5,ymin=-0.5,ymax=1.5]
\hmplot{Gb}{27}
\end{axis}
\begin{axis}[hm,at={(285.7pt,-555.3pt)},width=351pt,height=38.7pt,colormap name=blu,y dir=reverse,xmin=-0.5,xmax=26.5,ymin=-0.5,ymax=3.5]
\hmplot{Gc}{27}
\end{axis}
\begin{axis}[hm,at={(285.7pt,-602.7pt)},width=351pt,height=40.6pt,colormap name=blu,y dir=reverse,xmin=-0.5,xmax=26.5,ymin=-0.5,ymax=3.5]
\hmplot{Gd}{27}
\end{axis}
\foreach \x in {337.3,454.7,480.7} {\foreach \a/\b in {484.3/523.3,531/548,555.3/594,602.7/643.3} {\draw[line width=0.6pt,yellow!60!white] (\x,\a)--(\x,\b);}}
\foreach \y/\n in {487.3/BMP2,497.7/JAG1,508.3/SOX11,518.3/SOX11,534.7/GATA3,545/GATA3,559.3/HOXA9,569.3/MEIS1,579.3/HOXA10,589.3/HOXA9,606.7/FLI1,616.7/NOTCH2,627.7/NOTCH2,639.3/NOTCH2}
 {\tx[anchor=west]{640}{\y}{\fs{10}\itshape\n}}
% H
\begin{axis}[hmg,at={(350.7pt,-682.3pt)},width=397.6pt,height=100.4pt,colormap name=hset,point meta max=9,xmin=-0.5,xmax=29.5,ymin=-0.5,ymax=6.5,xtick={-0.5,0.5,...,29.5},ytick={-0.5,0.5,...,6.5},grid style={black!75,line width=0.5pt},axis line style={black,line width=1pt}]
\hmplot{H}{30}
\end{axis}
\begin{scope}
\clip (694.1,754) rectangle (720.6,768.4) (721.5,768.4) rectangle (748,782.7);
\foreach \i in {0,2,...,50} {\draw[line width=0.3pt,color=black!55] (680+\i*1.6,790)--(680+\i*1.6+40,750);}
\end{scope}
\draw[line width=1pt] (266,682.3) rectangle (350.7,782.7);
\foreach \y in {696.6,711,725.3,739.7,754,768.4} {\draw[line width=0.5pt,black!75] (266,\y)--(350.7,\y);}
\foreach \y/\n in {689.5/{\itshape OTT-MAL},703.8/{\itshape CBFA2T3-GLIS2},718.2/(+)21,732.5/{\itshape NUP98-KDM5A},746.8/{\itshape MLL-AF9},761.2/HOX signature,775.5/No HOX signature}
 {\tx[anchor=west,text=black!70]{269}{\y}{\fs{10}\n}}
\end{tikzpicture}
\end{document}
